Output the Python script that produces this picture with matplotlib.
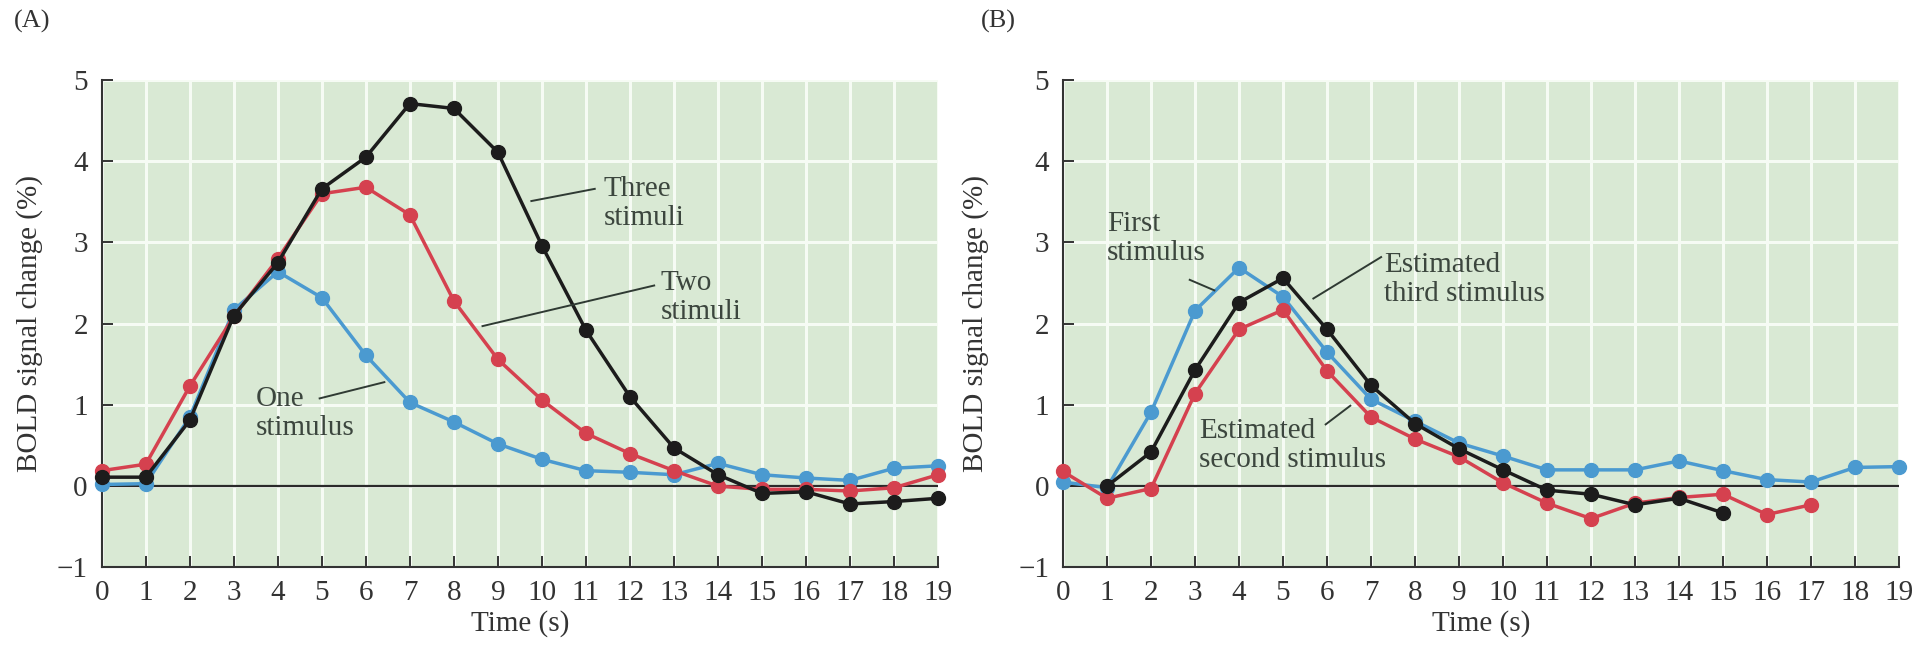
import numpy as np
import matplotlib
matplotlib.use("Agg")
import matplotlib.pyplot as plt

plt.rcParams['font.family'] = ['Liberation Serif', 'DejaVu Serif']

# Данные
time_s = list(range(20))

# (A) отклик на один, два и три стимула
one_stimulus = [0.02, 0.03, 0.85, 2.17, 2.64, 2.32, 1.61, 1.03, 0.79, 0.52,
                0.33, 0.19, 0.17, 0.14, 0.28, 0.14, 0.10, 0.07, 0.22, 0.25]
two_stimuli = [0.19, 0.27, 1.23, 2.09, 2.80, 3.60, 3.68, 3.34, 2.28, 1.56,
               1.06, 0.65, 0.40, 0.19, 0.00, -0.04, -0.04, -0.06, -0.02, 0.14]
three_stimuli = [0.11, 0.11, 0.81, 2.10, 2.75, 3.66, 4.05, 4.71, 4.65, 4.11,
                 2.96, 1.92, 1.10, 0.47, 0.14, -0.09, -0.07, -0.22, -0.19, -0.15]

# (B) первый стимул и оценки второго и третьего
first_stimulus = [0.05, -0.02, 0.91, 2.16, 2.69, 2.33, 1.65, 1.07, 0.80, 0.53,
                  0.37, 0.20, 0.20, 0.20, 0.31, 0.19, 0.08, 0.05, 0.23, 0.24]
est_second_t = list(range(18))
est_second = [0.18, -0.15, -0.03, 1.14, 1.93, 2.17, 1.42, 0.85, 0.58, 0.36,
              0.04, -0.21, -0.40, -0.21, -0.14, -0.10, -0.35, -0.23]
est_third_t = list(range(1, 16))
est_third = [0.00, 0.42, 1.43, 2.26, 2.56, 1.93, 1.24, 0.77, 0.46, 0.20,
             -0.05, -0.10, -0.23, -0.15, -0.33]

BLUE = '#4b9ad0'
RED = '#d5414f'
BLACK = '#1c1c1c'
BG = '#d9e9d4'
TXT = '#333333'
NOTE = '#3c463e'
FS = 21


def setup_axes(ax):
    """Оформление осей в стиле учебного рисунка"""
    ax.set_facecolor(BG)
    ax.set_xlim(0, 19)
    ax.set_ylim(-1, 5)
    ax.set_xticks(range(20))
    ax.set_yticks(range(-1, 6))
    ax.grid(True, color='#f6fbf4', linewidth=2.2)
    ax.set_axisbelow(True)
    for side in ['top', 'right']:
        ax.spines[side].set_visible(False)
    for side in ['left', 'bottom']:
        ax.spines[side].set_color('#333333')
        ax.spines[side].set_linewidth(1.5)
    ax.tick_params(direction='in', length=8, width=1.4, colors='#333333',
                   labelsize=FS, labelcolor=TXT)
    ax.tick_params(axis='x', pad=9)
    ax.tick_params(axis='y', pad=10)
    ax.axhline(0, color='#2a2a2a', linewidth=1.6, zorder=2)
    ax.set_xlabel('Time (s)', fontsize=FS, color=TXT, labelpad=3)
    ax.set_ylabel('BOLD signal change (%)', fontsize=FS, color=TXT)


def curve(ax, x, y, color):
    ax.plot(x, y, color=color, linewidth=2.5, marker='o', markersize=10,
            markeredgecolor=color, markerfacecolor=color,
            clip_on=False, zorder=3)


def note(ax, text, xy_text, line_from, line_to):
    ax.plot([line_from[0], line_to[0]], [line_from[1], line_to[1]],
            color='#2f3a33', linewidth=1.4, zorder=4)
    ax.text(xy_text[0], xy_text[1], text, fontsize=FS, color=NOTE,
            ha='left', va='center', linespacing=1.15, zorder=5)


fig = plt.figure(figsize=(19.31, 6.48), dpi=100)
ax1 = fig.add_axes([0.0527, 0.1245, 0.4331, 0.752])
ax2 = fig.add_axes([0.5505, 0.1245, 0.4329, 0.752])

for ax in (ax1, ax2):
    setup_axes(ax)

ax1.yaxis.set_label_coords(-0.07, 0.5)
ax2.yaxis.set_label_coords(-0.088, 0.5)

# Панель A
curve(ax1, time_s, one_stimulus, BLUE)
curve(ax1, time_s, two_stimuli, RED)
curve(ax1, time_s, three_stimuli, BLACK)
note(ax1, 'Three\nstimuli', (11.4, 3.48), (9.76, 3.51), (11.2, 3.66))
note(ax1, 'Two\nstimuli', (12.7, 2.32), (8.65, 1.97), (12.55, 2.47))
note(ax1, 'One\nstimulus', (3.5, 0.9), (4.95, 1.08), (6.42, 1.28))

# Панель B
curve(ax2, time_s, first_stimulus, BLUE)
curve(ax2, est_second_t, est_second, RED)
curve(ax2, est_third_t, est_third, BLACK)
note(ax2, 'First\nstimulus', (1.0, 3.05), (2.88, 2.54), (3.44, 2.41))
note(ax2, 'Estimated\nthird stimulus', (7.3, 2.55), (5.69, 2.31), (7.23, 2.82))
note(ax2, 'Estimated\nsecond stimulus', (3.1, 0.5), (5.97, 0.76), (6.53, 0.99))

fig.text(0.007, 0.985, '(A)', fontsize=19, color=TXT, ha='left', va='top')
fig.text(0.508, 0.985, '(B)', fontsize=19, color=TXT, ha='left', va='top')

fig.savefig('out.png', dpi=100, facecolor='white')
